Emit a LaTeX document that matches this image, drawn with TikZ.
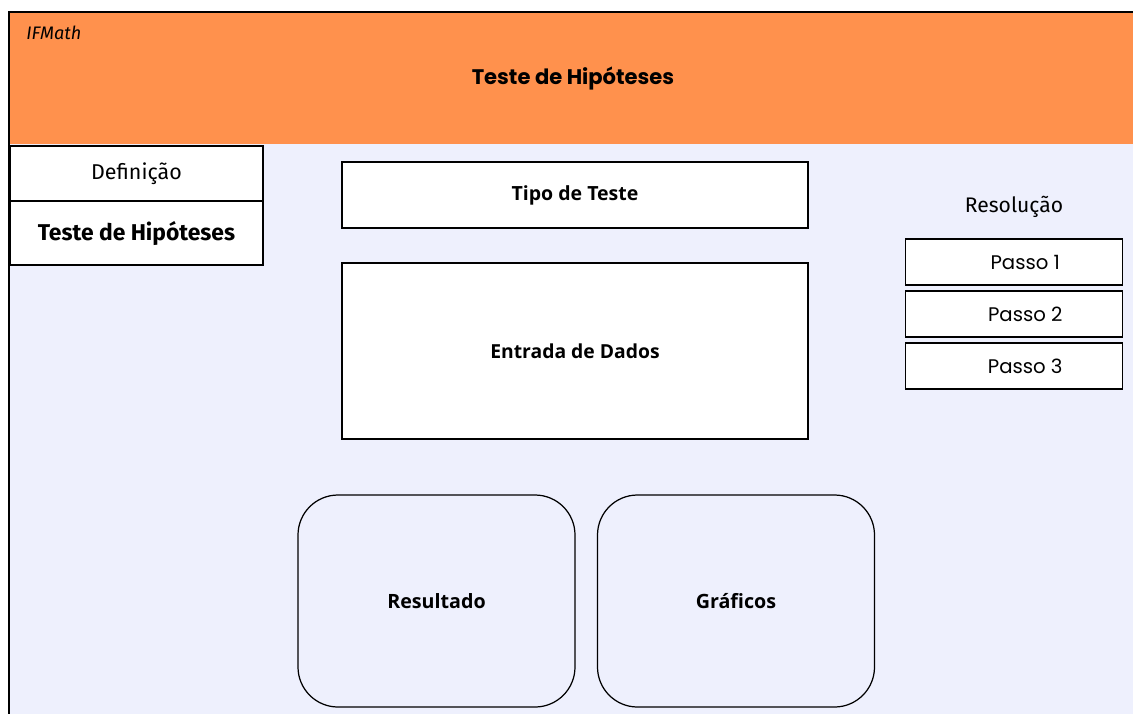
\documentclass[tikz,border=0pt]{standalone}
\usepackage{fontspec}
\setmainfont{Fira Sans}
\newfontfamily\opensans{Open Sans}
\newfontfamily\poppins{Poppins}
\definecolor{headorange}{HTML}{FF914D}
\definecolor{pagelav}{HTML}{EEF0FD}
\begin{document}
\begin{tikzpicture}[
    box/.style={draw=black,line width=0.7pt,fill=white,inner sep=0pt},
    card/.style={draw=black,line width=0.7pt,rounded corners=0.8cm,inner sep=0pt,
      minimum width=5.54cm,minimum height=4.24cm,font=\opensans\bfseries\fontsize{11.2}{13}\selectfont},
    stepbox/.style={box,minimum width=4.34cm,minimum height=0.92cm,font=\poppins\fontsize{11.2}{13}\selectfont}
  ]
                \useasboundingbox (0,0) rectangle (22.66,-14.28);
                \fill[white] (0,0) rectangle (22.66,-14.28);
                % header and page
                \fill[headorange] (0.18,-0.24) rectangle (22.66,-2.88);
                \fill[pagelav] (0.18,-2.88) rectangle (22.66,-14.28);
                \draw[line width=0.8pt] (22.66,-0.24)--(0.18,-0.24)--(0.18,-14.28);
                \node[anchor=west,inner sep=0pt,font=\itshape\fontsize{10.3}{12}\selectfont] (brand) at (0.52,-0.66) {IFMath};
                \node[font=\poppins\bfseries\fontsize{12}{14}\selectfont] (title) at (11.46,-1.58) {Teste de Hipóteses};
                % menu
                \node[box,minimum width=5.06cm,minimum height=1.1cm,font=\fontsize{12.2}{14}\selectfont] (def) at (2.73,-3.47) {Definição};
                \node[box,minimum width=5.06cm,minimum height=1.28cm,font=\bfseries\fontsize{13}{15}\selectfont] (teste) at (2.73,-4.66) {Teste de Hipóteses};
                % main panels
                \node[box,minimum width=9.32cm,minimum height=1.32cm,font=\opensans\bfseries\fontsize{11.1}{13}\selectfont] (tipo) at (11.5,-3.9) {Tipo de Teste};
                \node[box,minimum width=9.32cm,minimum height=3.52cm,font=\opensans\bfseries\fontsize{11}{13}\selectfont] (dados) at (11.5,-7.02) {Entrada de Dados};
                \node[card] (result) at (8.73,-12.02) {Resultado};
                \node[card] (graf) at (14.72,-12.02) {Gráficos};
                % resolution steps
                \node[font=\fontsize{12}{14}\selectfont] (resol) at (20.28,-4.14) {Resolução};
                \foreach \i/\y in {1/-5.24,2/-6.28,3/-7.32}
                  \node[stepbox] (passo\i) at (20.28,\y) {\hspace{0.45cm}Passo \i};
\end{tikzpicture}
\end{document}
